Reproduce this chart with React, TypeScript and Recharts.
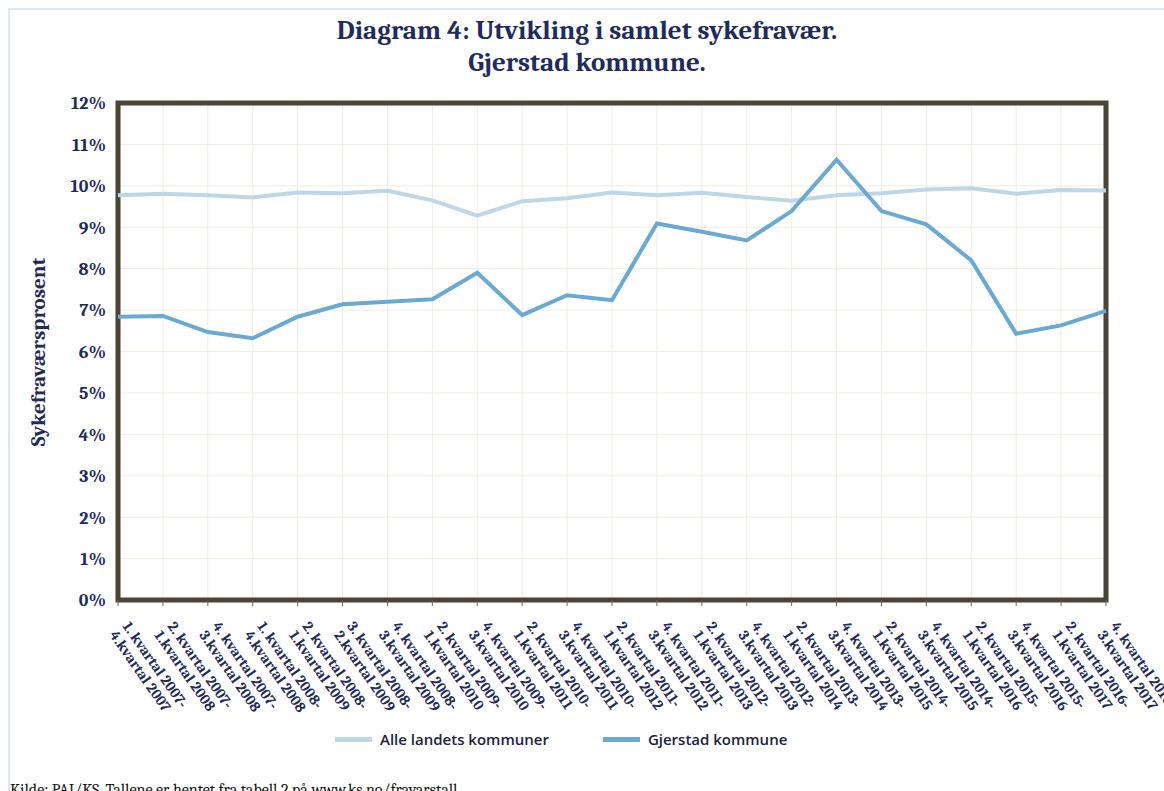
import { CartesianGrid, Line, LineChart, ReferenceArea, XAxis, YAxis } from "recharts";

const periods = [
  "1. kvartal 2007-\n4.kvartal 2007",
  "2. kvartal 2007-\n1.kvartal 2008",
  "4. kvartal 2007-\n3.kvartal 2008",
  "1. kvartal 2008-\n4.kvartal 2008",
  "2. kvartal 2008-\n1.kvartal 2009",
  "3. kvartal 2008-\n2.kvartal 2009",
  "4. kvartal 2008-\n3.kvartal 2009",
  "2. kvartal 2009-\n1.kvartal 2010",
  "4. kvartal 2009-\n3.kvartal 2010",
  "2. kvartal 2010-\n1.kvartal 2011",
  "4. kvartal 2010-\n3.kvartal 2011",
  "2. kvartal 2011-\n1.kvartal 2012",
  "4. kvartal 2011-\n3.kvartal 2012",
  "2. kvartal 2012-\n1.kvartal 2013",
  "4. kvartal 2012-\n3.kvartal 2013",
  "2. kvartal 2013-\n1.kvartal 2014",
  "4. kvartal 2013-\n3.kvartal 2014",
  "2. kvartal 2014-\n1.kvartal 2015",
  "4. kvartal 2014-\n3.kvartal 2015",
  "2. kvartal 2015-\n1.kvartal 2016",
  "4. kvartal 2015-\n3.kvartal 2016",
  "2. kvartal 2016-\n1.kvartal 2017",
  "4. kvartal 2016-\n3.kvartal 2017",
];

const alleLandets = [
  9.77, 9.81, 9.77, 9.72, 9.84, 9.82, 9.88, 9.65, 9.28, 9.63, 9.7, 9.84,
  9.77, 9.83, 9.73, 9.64, 9.77, 9.82, 9.91, 9.94, 9.81, 9.9, 9.89,
];

const gjerstad = [
  6.84, 6.86, 6.47, 6.32, 6.84, 7.14, 7.2, 7.26, 7.9, 6.88, 7.36, 7.24,
  9.09, 8.89, 8.68, 9.39, 10.63, 9.39, 9.07, 8.2, 6.43, 6.63, 6.98,
];

const yTicks = [0, 1, 2, 3, 4, 5, 6, 7, 8, 9, 10, 11, 12];

const series = [
  { key: "alle", name: "Alle landets kommuner", color: "#bed7e7" },
  { key: "gjerstad", name: "Gjerstad kommune", color: "#6aaad2" },
];

const data = periods.map((period, i) => ({
  period,
  alle: alleLandets[i],
  gjerstad: gjerstad[i],
}));

const navy = "#1f2b5a";
const serif = "Cambria, 'Liberation Serif', 'DejaVu Serif', serif";

function PeriodTick(props: any) {
  const { x, y, payload } = props;
  const [first, second] = String(payload.value).split("\n");
  return (
    <g transform={`translate(${x},${y}) rotate(55)`}>
      <text x={17} y={7} fill={navy} fontFamily={serif} fontWeight="bold" fontSize={15}>
        {first}
      </text>
      <text x={17} y={23} fill={navy} fontFamily={serif} fontWeight="bold" fontSize={15}>
        {second}
      </text>
    </g>
  );
}

export default function App() {
  return (
    <div style={{ position: "absolute", left: 0, top: 0, width: 1164, height: 791, background: "#fff", overflow: "hidden" }}>
      <div
        style={{
          position: "absolute",
          left: 8,
          top: 8,
          width: 1200,
          height: 900,
          borderLeft: "2px solid #dde9ef",
          borderTop: "2px solid #dde9ef",
        }}
      />
      <div
        style={{
          position: "absolute",
          left: 287,
          top: 15,
          width: 600,
          textAlign: "center",
          fontFamily: serif,
          fontWeight: "bold",
          fontSize: 27,
          lineHeight: "32px",
          color: navy,
        }}
      >
        Diagram 4: Utvikling i samlet sykefravær.
        <br />
        Gjerstad kommune.
      </div>
      <div
        style={{
          position: "absolute",
          left: 38,
          top: 352,
          transform: "translate(-50%, -50%) rotate(-90deg)",
          whiteSpace: "nowrap",
          fontFamily: serif,
          fontWeight: "bold",
          fontSize: 21,
          color: navy,
        }}
      >
        Sykefraværsprosent
      </div>
      <div style={{ position: "absolute", left: 0, top: 0 }}>
        <LineChart width={1164} height={791} data={data} margin={{ top: 103, right: 58, bottom: 71, left: 58 }}>
          <CartesianGrid stroke="#eeede0" strokeWidth={1} />
          <XAxis
            dataKey="period"
            interval={0}
            height={120}
            tick={<PeriodTick />}
            tickSize={6}
            tickLine={{ stroke: "#6b6658" }}
            axisLine={false}
          />
          <YAxis
            width={60}
            domain={[0, 12]}
            ticks={yTicks}
            tickFormatter={(v) => `${v}%`}
            tickLine={false}
            axisLine={false}
            tickSize={8}
            tickMargin={4}
            tick={{ fill: navy, fontFamily: serif, fontWeight: "bold", fontSize: 18 }}
          />
          {series.map((s) => (
            <Line
              key={s.key}
              type="linear"
              dataKey={s.key}
              name={s.name}
              stroke={s.color}
              strokeWidth={4}
              dot={false}
              isAnimationActive={false}
            />
          ))}
          <ReferenceArea
            x1={periods[0]}
            x2={periods[periods.length - 1]}
            y1={0}
            y2={12}
            fill="none"
            stroke="#4b4536"
            strokeWidth={5}
            ifOverflow="visible"
          />
        </LineChart>
      </div>
      <div
        style={{
          position: "absolute",
          left: 335,
          top: 729,
          display: "flex",
          gap: 54,
          fontFamily: "'Open Sans', 'Liberation Sans', sans-serif",
          fontWeight: 600,
          fontSize: 15,
          color: "#1b2340",
        }}
      >
        {series.map((s) => (
          <div key={s.key} style={{ display: "flex", alignItems: "center", gap: 8 }}>
            <div style={{ width: 37, height: 5, background: s.color }} />
            <span>{s.name}</span>
          </div>
        ))}
      </div>
      <div
        style={{
          position: "absolute",
          left: 10,
          top: 781,
          fontFamily: serif,
          fontSize: 16,
          color: "#111",
          whiteSpace: "nowrap",
        }}
      >
        Kilde: PAI/KS. Tallene er hentet fra tabell 2 på www.ks.no/fravarstall
      </div>
    </div>
  );
}
